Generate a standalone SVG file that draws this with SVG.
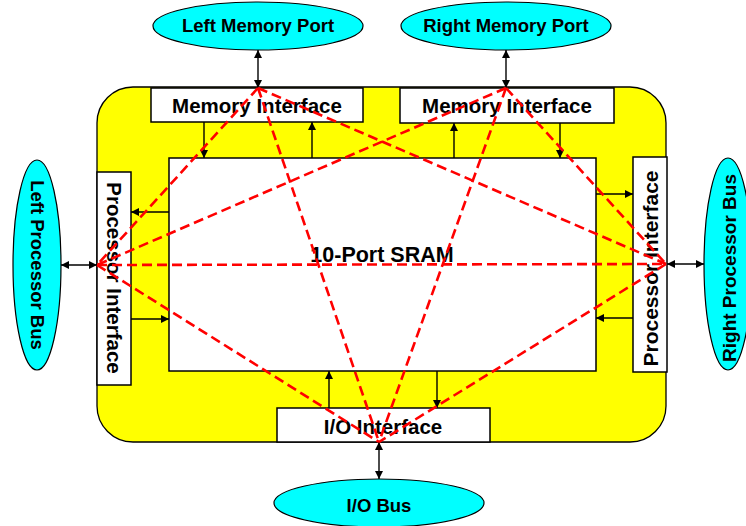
<svg xmlns="http://www.w3.org/2000/svg" width="746" height="526" viewBox="0 0 746 526">
<style>
.port{fill:#00FFFF;stroke:#000;stroke-width:1.2}
.box{fill:#fff;stroke:#000;stroke-width:1.5}
.t{font-family:"Liberation Sans",Arial,sans-serif;font-weight:bold;fill:#000;text-anchor:middle}
.tp{font-size:18.5px}
.ti{font-size:20.5px}
.ln{stroke:#000;stroke-width:1.4;fill:none}
.dbl{marker-start:url(#ah);marker-end:url(#ah)}
.one{marker-end:url(#ah)}
.red{stroke:#FF0000;stroke-width:2.6;stroke-dasharray:10 5;fill:none}
</style>
<defs>
<marker id="ah" viewBox="0 0 10 10" refX="10" refY="5" markerWidth="8" markerHeight="8" markerUnits="userSpaceOnUse" orient="auto-start-reverse">
<path d="M0,0 L10,5 L0,10 z" fill="#000"/>
</marker>
</defs>
<rect id="chip" x="97" y="87" width="569" height="355" rx="36" ry="36" fill="#FFFF00" stroke="#000" stroke-width="1.3"/>
<g id="sram">
<rect class="box" x="169" y="158" width="427" height="213"/>
<text class="t" x="382" y="262" style="font-size:21.5px">10-Port SRAM</text>
</g>
<g id="mem-if-left">
<rect class="box" x="151" y="88" width="212" height="34"/>
<text class="t ti" x="257" y="113">Memory Interface</text>
</g>
<g id="mem-if-right">
<rect class="box" x="400" y="88" width="214" height="35"/>
<text class="t ti" x="507" y="113">Memory Interface</text>
</g>
<g id="proc-if-left">
<rect class="box" x="97" y="172" width="34" height="213"/>
<text class="t ti" transform="translate(114,278) rotate(90)" x="0" y="7">Processor Interface</text>
</g>
<g id="proc-if-right">
<rect class="box" x="633" y="157" width="34" height="215"/>
<text class="t" style="font-size:21px" transform="translate(650,268.5) rotate(-90)" x="0" y="7.5">Processor Interface</text>
</g>
<g id="io-if">
<rect class="box" x="277" y="408" width="213" height="34"/>
<text class="t ti" x="383" y="434">I/O Interface</text>
</g>
<g id="left-memory-port">
<ellipse class="port" cx="258" cy="26" rx="105" ry="24"/>
<text class="t tp" x="258" y="32">Left Memory Port</text>
</g>
<g id="right-memory-port">
<ellipse class="port" cx="506" cy="26" rx="105" ry="24"/>
<text class="t tp" x="506" y="32">Right Memory Port</text>
</g>
<g id="left-processor-bus">
<ellipse class="port" cx="37" cy="265" rx="24" ry="105"/>
<text class="t tp" transform="translate(37,265) rotate(90)" x="0" y="6.5">Left Processor Bus</text>
</g>
<g id="right-processor-bus">
<ellipse class="port" cx="728" cy="264" rx="24" ry="106"/>
<text class="t" style="font-size:19px" transform="translate(729,268) rotate(-90)" x="0" y="7">Right Processor Bus</text>
</g>
<g id="io-bus">
<ellipse class="port" cx="379" cy="503" rx="105" ry="24"/>
<text class="t tp" x="379" y="511.5">I/O Bus</text>
</g>
<g id="connectors">
<line class="ln dbl" x1="258" y1="50" x2="258" y2="88"/>
<line class="ln dbl" x1="506" y1="50" x2="506" y2="88"/>
<line class="ln dbl" x1="61" y1="265" x2="97" y2="265"/>
<line class="ln dbl" x1="667" y1="264" x2="704" y2="264"/>
<line class="ln dbl" x1="379" y1="442" x2="379" y2="479"/>
<line class="ln one" x1="204" y1="122" x2="204" y2="158"/>
<line class="ln one" x1="312" y1="158" x2="312" y2="122"/>
<line class="ln one" x1="454" y1="158" x2="454" y2="123"/>
<line class="ln one" x1="560" y1="123" x2="560" y2="158"/>
<line class="ln one" x1="169" y1="212" x2="131" y2="212"/>
<line class="ln one" x1="131" y1="319" x2="169" y2="319"/>
<line class="ln one" x1="596" y1="194" x2="633" y2="194"/>
<line class="ln one" x1="633" y1="318" x2="596" y2="318"/>
<line class="ln one" x1="329" y1="408" x2="329" y2="371"/>
<line class="ln one" x1="437" y1="371" x2="437" y2="408"/>
</g>
<g id="crossbar">
<line class="red" x1="258" y1="88" x2="97" y2="265"/>
<line class="red" x1="258" y1="88" x2="666" y2="264"/>
<line class="red" x1="258" y1="88" x2="379" y2="442"/>
<line class="red" x1="506" y1="88" x2="97" y2="265"/>
<line class="red" x1="506" y1="88" x2="666" y2="264"/>
<line class="red" x1="506" y1="88" x2="379" y2="442"/>
<line class="red" x1="97" y1="265" x2="666" y2="264"/>
<line class="red" x1="97" y1="265" x2="379" y2="442"/>
<line class="red" x1="666" y1="264" x2="379" y2="442"/>
</g>
</svg>
